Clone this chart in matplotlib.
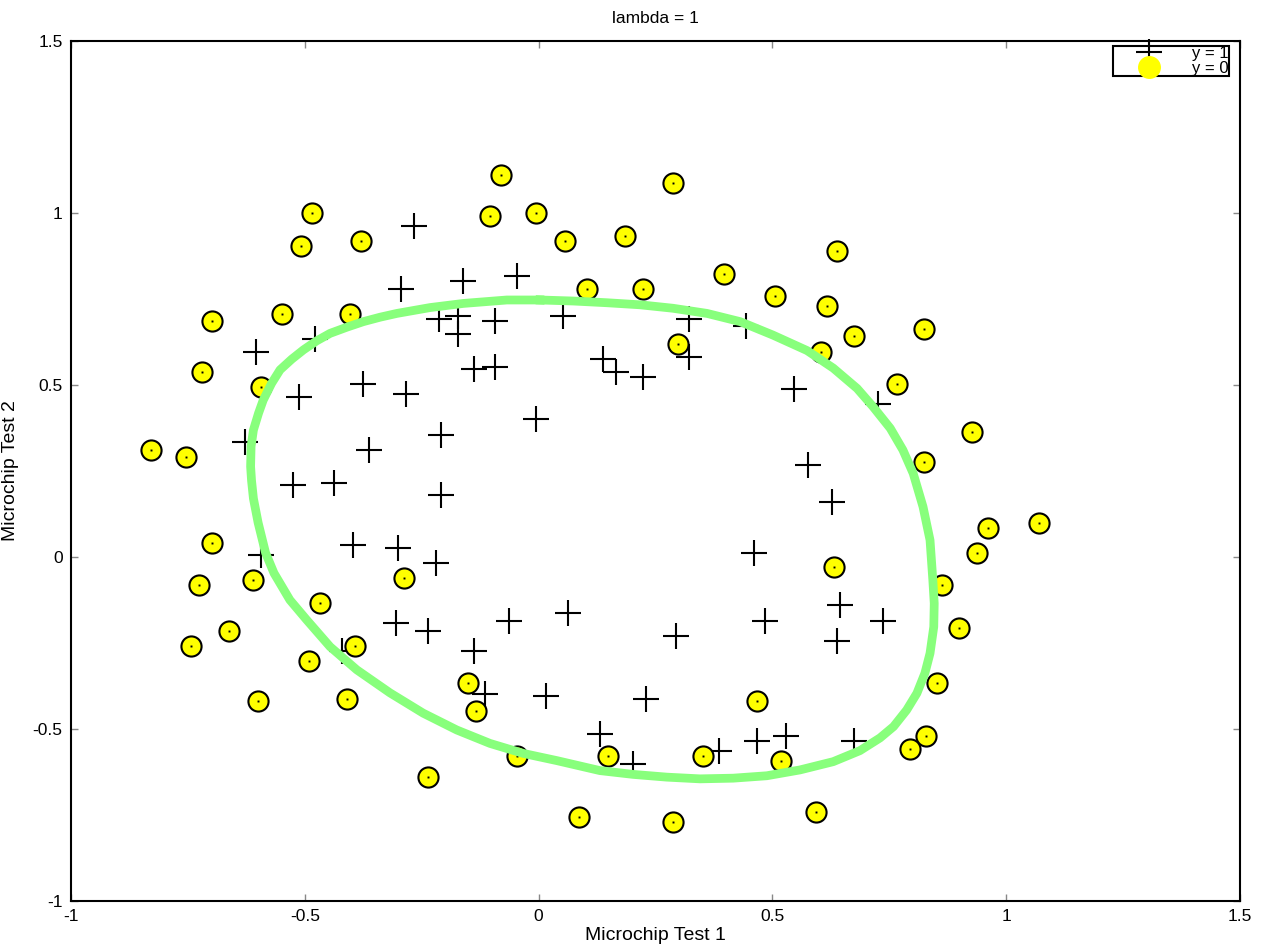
import matplotlib
matplotlib.use('Agg')
from matplotlib import pyplot as plt
from matplotlib.lines import Line2D

plt.rcParams['font.family'] = ['Liberation Sans', 'DejaVu Sans']

# microchip test results (test 1, test 2, accepted)
test1 = [0.051267, -0.092742, -0.21371, -0.375, -0.51325, -0.52477, -0.39804, -0.30588,
         0.016705, 0.13191, 0.38537, 0.52938, 0.63882, 0.73675, 0.54666, 0.322, 0.16647,
         -0.046659, -0.17339, -0.47869, -0.60541, -0.62846, -0.59389, -0.42108, -0.11578,
         0.20104, 0.46601, 0.67339, -0.13882, -0.29435, -0.26555, -0.16187, -0.17339,
         -0.28283, -0.36348, -0.30012, -0.23675, -0.06394, 0.062788, 0.22984, 0.2932,
         0.48329, 0.64459, 0.46025, 0.6273, 0.57546, 0.72523, 0.22408, 0.44297, 0.322,
         0.13767, -0.0063364, -0.092742, -0.20795, -0.20795, -0.43836, -0.21947, -0.13882,
         0.18376, 0.22408, 0.29896, 0.50634, 0.61578, 0.60426, 0.76555, 0.92684, 0.82316,
         0.96141, 0.93836, 0.86348, 0.89804, 0.85196, 0.82892, 0.79435, 0.59274, 0.51786,
         0.46601, 0.35081, 0.28744, 0.085829, 0.14919, -0.13306, -0.40956, -0.39228,
         -0.74366, -0.69758, -0.75518, -0.69758, -0.4038, -0.38076, -0.50749, -0.54781,
         0.10311, 0.057028, -0.10426, -0.081221, 0.28744, 0.39689, 0.63882, 0.82316,
         0.67339, 1.0709, -0.046659, -0.23675, -0.15035, -0.49021, -0.46717, -0.28859,
         -0.61118, -0.66302, -0.59965, -0.72638, -0.83007, -0.72062, -0.59389, -0.48445,
         -0.0063364, 0.63265]
test2 = [0.69956, 0.68494, 0.69225, 0.50219, 0.46564, 0.2098, 0.034357, -0.19225,
         -0.40424, -0.51389, -0.56506, -0.5212, -0.24342, -0.18494, 0.48757, 0.5826, 0.53874,
         0.81652, 0.69956, 0.63377, 0.59722, 0.33406, 0.005117, -0.27266, -0.39693,
         -0.60161, -0.53582, -0.53582, 0.54605, 0.77997, 0.96272, 0.8019, 0.64839,
         0.47295, 0.31213, 0.027047, -0.21418, -0.18494, -0.16301, -0.41155, -0.2288,
         -0.18494, -0.14108, 0.012427, 0.15863, 0.26827, 0.44371, 0.52412, 0.67032, 0.69225,
         0.57529, 0.39985, 0.55336, 0.35453, 0.17909, 0.21564, -0.016813, -0.27266,
         0.93348, 0.77997, 0.61915, 0.75804, 0.7288, 0.59722, 0.50219, 0.3633, 0.27558,
         0.085526, 0.012427, -0.082602, -0.20687, -0.36769, -0.5212, -0.55775, -0.7405, -0.5943,
         -0.41886, -0.57968, -0.76974, -0.75512, -0.57968, -0.4481, -0.41155, -0.25804,
         -0.25804, 0.041667, 0.2902, 0.68494, 0.70687, 0.91886, 0.90424, 0.70687,
         0.77997, 0.91886, 0.99196, 1.1089, 1.087, 0.82383, 0.88962, 0.66301,
         0.64108, 0.10015, -0.57968, -0.63816, -0.36769, -0.3019, -0.13377, -0.060673,
         -0.067982, -0.21418, -0.41886, -0.082602, 0.31213, 0.53874, 0.49488, 0.99927,
         0.99927, -0.030612]
accepted = [1] * 58 + [0] * 60

# decision boundary (clockwise from the top)
bound_x = [0.003, 0.074, 0.146, 0.217, 0.287, 0.360, 0.431, 0.501, 0.574, 0.630, 0.681,
           0.715, 0.752, 0.779, 0.801, 0.822, 0.837, 0.843, 0.846, 0.845, 0.837, 0.826,
           0.809, 0.787, 0.759, 0.730, 0.687, 0.630, 0.559, 0.488, 0.416, 0.345, 0.274,
           0.202, 0.131, 0.039, -0.033, -0.104, -0.175, -0.247, -0.318, -0.389, -0.446,
           -0.496, -0.532, -0.566, -0.584, -0.600, -0.610, -0.614, -0.616, -0.615, -0.610,
           -0.599, -0.589, -0.571, -0.553, -0.528, -0.503, -0.475, -0.446, -0.410, -0.375,
           -0.339, -0.303, -0.232, -0.161, -0.068, 0.003]
bound_y = [0.747, 0.744, 0.739, 0.733, 0.723, 0.708, 0.684, 0.645, 0.600, 0.549, 0.490,
           0.437, 0.374, 0.311, 0.243, 0.146, 0.049, -0.067, -0.135, -0.203, -0.280, -0.338,
           -0.396, -0.445, -0.493, -0.526, -0.563, -0.595, -0.619, -0.636, -0.643, -0.645,
           -0.640, -0.632, -0.621, -0.592, -0.571, -0.542, -0.503, -0.454, -0.395, -0.328,
           -0.261, -0.183, -0.125, -0.047, 0.012, 0.100, 0.170, 0.222, 0.263, 0.321, 0.369,
           0.418, 0.456, 0.505, 0.544, 0.575, 0.602, 0.628, 0.650, 0.668, 0.684, 0.697,
           0.708, 0.725, 0.737, 0.747, 0.747]

pos_x = [a for a, c in zip(test1, accepted) if c == 1]
pos_y = [b for b, c in zip(test2, accepted) if c == 1]
neg_x = [a for a, c in zip(test1, accepted) if c == 0]
neg_y = [b for b, c in zip(test2, accepted) if c == 0]

fig = plt.figure(figsize=(12.62, 9.5), dpi=100)
ax = fig.add_axes([0.0563, 0.0516, 0.9263, 0.9053])

ax.plot(pos_x, pos_y, '+', color='black', markersize=18.5, mew=1.5, zorder=2)
ax.plot(neg_x, neg_y, 'o', mfc='yellow', mec='black', markersize=14.5, mew=1.5, zorder=3)
ax.plot(neg_x, neg_y, 's', color='black', markersize=1.4, mew=0, zorder=4)
ax.plot(bound_x, bound_y, '-', color='#88ff7c', linewidth=6.3, solid_joinstyle='round',
        zorder=5)

ax.set_xlim(-1, 1.5)
ax.set_ylim(-1, 1.5)
ax.set_xticks([-1, -0.5, 0, 0.5, 1, 1.5])
ax.set_xticklabels(['-1', '-0.5', '0', '0.5', '1', '1.5'])
ax.set_yticks([-1, -0.5, 0, 0.5, 1, 1.5])
ax.set_yticklabels(['-1', '-0.5', '0', '0.5', '1', '1.5'])
ax.tick_params(direction='in', length=5, width=1, color='#888888', top=True, right=True,
               labelsize=12.5, labelcolor='black')
ax.tick_params(axis='x', pad=6)
ax.tick_params(axis='y', pad=6)
for s in ax.spines.values():
    s.set_linewidth(1.5)

ax.set_title('lambda = 1', fontsize=12.5, pad=13)
ax.set_xlabel('Microchip Test 1', fontsize=14, labelpad=2)
ax.set_ylabel('Microchip Test 2', fontsize=14)
ax.yaxis.set_label_coords(-0.0445, 0.5)

handles = [Line2D([], [], ls='none', marker='+', color='black', markersize=18.5, mew=1.5),
           Line2D([], [], ls='none', marker='o', mfc='yellow', mec='yellow', markersize=15.5)]
leg = ax.legend(handles, ['y = 1', 'y = 0'], loc='upper right',
                bbox_to_anchor=(0.9906, 0.9942), borderaxespad=0, fontsize=12,
                labelspacing=-0.02, borderpad=0.02, handlelength=4.2, handletextpad=0.5,
                fancybox=False, framealpha=1, edgecolor='black')
leg.get_frame().set_linewidth(1.5)

plt.savefig('out.png', dpi=100)
